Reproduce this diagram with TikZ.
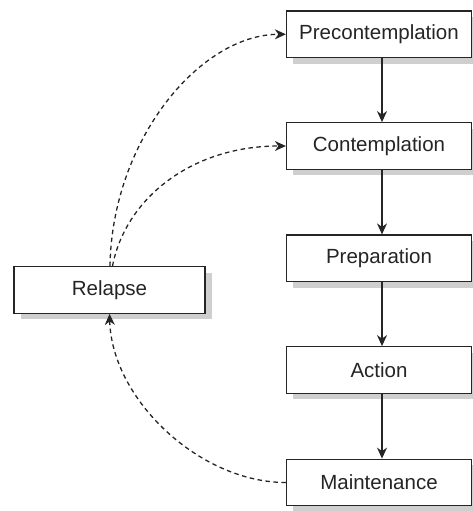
\documentclass[tikz,border=0pt]{standalone}
\usepackage{fontspec}
\setmainfont{Liberation Sans}
\usetikzlibrary{arrows.meta,shadows}
\definecolor{ink}{HTML}{252525}
\definecolor{shade}{HTML}{CFCFCF}
\begin{document}
\begin{tikzpicture}[x=1pt,y=-1pt,
  stage/.style={draw=ink, line width=1.3pt, fill=white,
    minimum width=185pt, minimum height=46.5pt, inner sep=0pt,
    text=ink, font=\fontsize{20.5}{24}\selectfont,
    drop shadow={shadow xshift=6.5pt, shadow yshift=-6pt, fill=shade, opacity=1}},
  flow/.style={draw=ink, line width=1.2pt, -{Stealth[length=11pt,width=10pt,inset=3.5pt]}},
  back/.style={flow, line width=1.3pt, dash pattern=on 4.5pt off 3.5pt}]
\useasboundingbox (0,0) rectangle (473,511);

% the five stages
\node[stage] (pre)  at (379,34.3)  {Precontemplation};
\node[stage] (con)  at (379,146)   {Contemplation};
\node[stage] (prep) at (379,258.3) {Preparation};
\node[stage] (act)  at (379,370)   {Action};
\node[stage] (main) at (379,482.5) {Maintenance};
\node[stage, minimum width=191pt] (rel) at (109.5,290) {Relapse};

% forward progression
\draw[flow] ([xshift=3pt]pre.south)  -- ([xshift=3pt]con.north);
\draw[flow] ([xshift=3pt]con.south)  -- ([xshift=3pt]prep.north);
\draw[flow] ([xshift=3pt]prep.south) -- ([xshift=3pt]act.north);
\draw[flow] ([xshift=3pt]act.south)  -- ([xshift=3pt]main.north);

% relapse cycle
\draw[back] ([xshift=0.5pt]rel.north) .. controls (112,140) and (200,34.3) .. (pre.west);
\draw[back] ([xshift=3pt]rel.north) .. controls (125,200) and (190,146) .. (con.west);
\draw[back] (main.west) .. controls (200,482.5) and (112,400) .. (rel.south);
\end{tikzpicture}
\end{document}
